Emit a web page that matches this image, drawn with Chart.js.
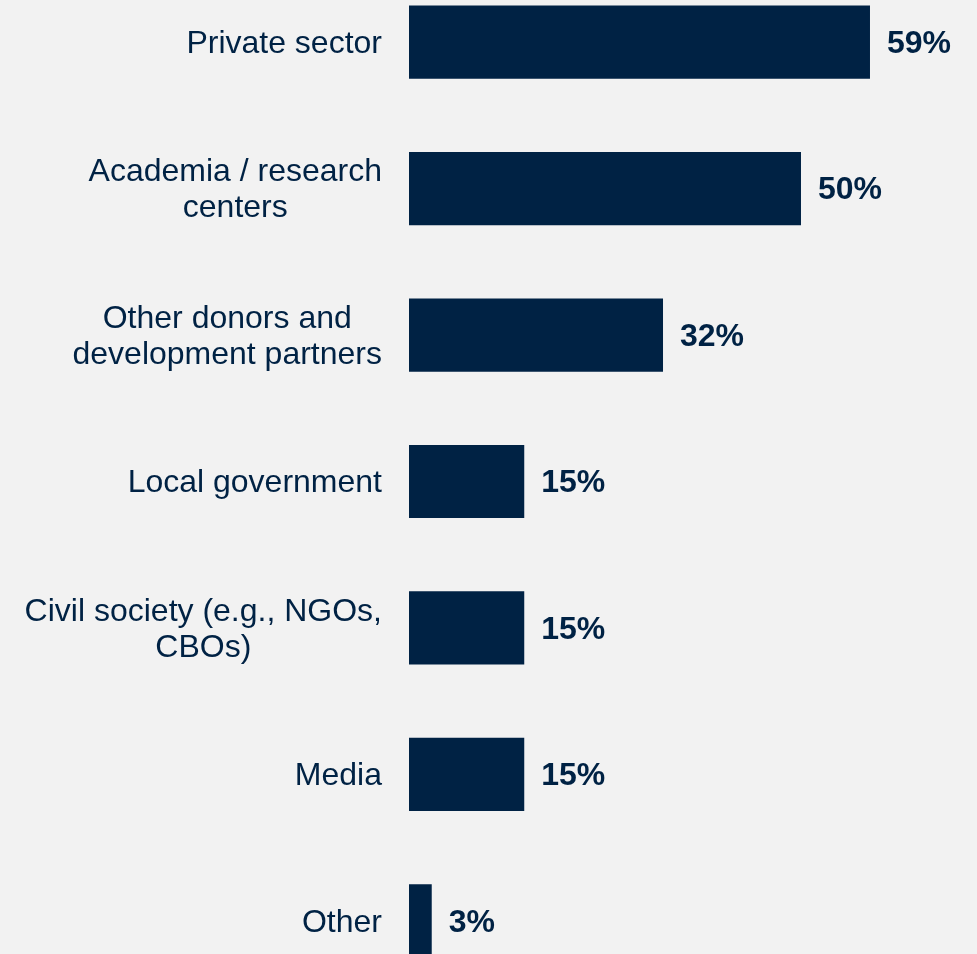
<!DOCTYPE html>
<html>
<head>
<meta charset="utf-8">
<script src="https://cdn.jsdelivr.net/npm/chart.js@4.4.1/dist/chart.umd.min.js"></script>
<style>
  html, body { margin: 0; padding: 0; background: #f2f2f2; overflow: hidden; width: 977px; height: 954px; }
  #wrap { position: absolute; left: 0; top: -31px; width: 977px; height: 1025px; }
</style>
</head>
<body>
<div id="wrap"><canvas id="c"></canvas></div>
<script>
const categories = [
  ['Private sector'],
  ['Academia / research', 'centers'],
  ['Other donors and', 'development partners'],
  ['Local government'],
  ['Civil society (e.g., NGOs,', 'CBOs)'],
  ['Media'],
  ['Other']
];
const values = [58.8, 50.0, 32.4, 14.7, 14.7, 14.7, 2.9];
const valueLabels = ['59%', '50%', '32%', '15%', '15%', '15%', '3%'];

const NAVY = '#002244';
const FONT = '"Liberation Sans", Arial, sans-serif';

const labelPlugin = {
  id: 'labelPlugin',
  afterDatasetsDraw(chart) {
    const ctx = chart.ctx;
    const yScale = chart.scales.y;
    const meta = chart.getDatasetMeta(0);
    ctx.save();
    ctx.fillStyle = NAVY;
    ctx.textBaseline = 'middle';
    const lh = 36;
    const dy = 2;
    const rightEdge = chart.chartArea.left - 27;
    categories.forEach((lines, i) => {
      const cy = yScale.getPixelForValue(i) + dy;
      ctx.font = '32px ' + FONT;
      let w = 0;
      lines.forEach(l => { w = Math.max(w, ctx.measureText(l).width); });
      const cx = rightEdge - w / 2;
      ctx.textAlign = 'center';
      const startY = cy - (lines.length - 1) * lh / 2;
      lines.forEach((l, j) => ctx.fillText(l, cx, startY + j * lh));
      const bar = meta.data[i];
      ctx.font = 'bold 32px ' + FONT;
      ctx.textAlign = 'left';
      ctx.fillText(valueLabels[i], bar.x + 17, cy);
    });
    ctx.restore();
  }
};

new Chart(document.getElementById('c'), {
  type: 'bar',
  data: {
    labels: categories,
    datasets: [{
      data: values,
      backgroundColor: NAVY,
      borderWidth: 0,
      categoryPercentage: 1,
      barPercentage: 0.5
    }]
  },
  options: {
    indexAxis: 'y',
    responsive: true,
    maintainAspectRatio: false,
    animation: false,
    layout: { padding: { left: 409, right: 0, top: 0, bottom: 0 } },
    plugins: { legend: { display: false }, tooltip: { enabled: false } },
    scales: {
      x: { display: false, min: 0, max: 72.45 },
      y: { display: false }
    }
  },
  plugins: [labelPlugin]
});
</script>
</body>
</html>
